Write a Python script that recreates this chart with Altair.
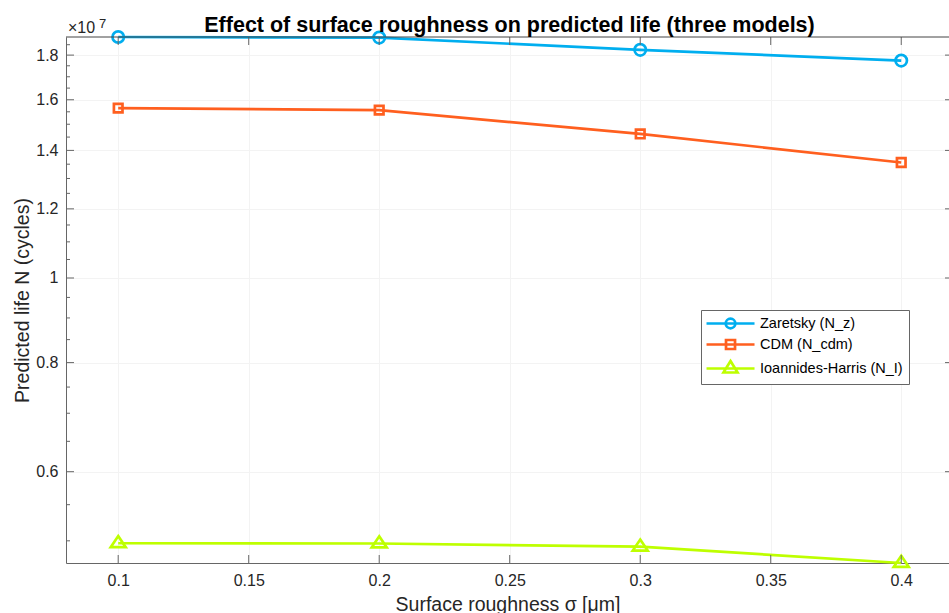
import altair as alt
import pandas as pd

# ---------------- data ----------------
sigma = [0.1, 0.2, 0.3, 0.4]
n_zaretsky = [1.888e7, 1.885e7, 1.825e7, 1.774e7]
n_cdm = [1.565e7, 1.557e7, 1.462e7, 1.356e7]
n_ih = [4.968e6, 4.965e6, 4.923e6, 4.716e6]
models = ["Zaretsky (N_z)", "CDM (N_cdm)", "Ioannides-Harris (N_I)"]
colors = ["#00AEEF", "#FF5F1F", "#BEFF00"]
title_text = "Effect of surface roughness on predicted life (three models)"

x_ticks = [0.1, 0.15, 0.2, 0.25, 0.3, 0.35, 0.4]
x_domain = [0.08, 0.4183]
y_major = [6e6, 8e6, 1e7, 1.2e7, 1.4e7, 1.6e7, 1.8e7]
y_minor = [5e6, 5.5e6, 6.5e6, 7e6, 7.5e6, 8.5e6, 9e6, 9.5e6, 1.05e7, 1.1e7,
           1.15e7, 1.25e7, 1.3e7, 1.35e7, 1.45e7, 1.5e7, 1.55e7, 1.65e7,
           1.7e7, 1.75e7, 1.85e7]

series = [n_zaretsky, n_cdm, n_ih]
rows = []
for m, vals in zip(models, series):
    for s, v in zip(sigma, vals):
        rows.append({"sigma": s, "N": v, "model": m})
df = pd.DataFrame(rows)
all_vals = [v for vals in series for v in vals]
y_domain = [min(all_vals), max(all_vals)]

# ---------------- styling ----------------
W, H = 883, 526
FONT = "Liberation Sans"
TICK = "#666666"
LW = 2.7

marker_paths = [
    "M-0.88,0A0.88,0.88,0,1,0,0.88,0A0.88,0.88,0,1,0,-0.88,0",
    "M-0.66,-0.66H0.66V0.66H-0.66Z",
    "M0,-1.1L1.15,0.6H-1.15Z",
]
legend_paths = [
    "M-1.33,0H6.67M1.87,0A0.8,0.8,0,1,0,3.47,0A0.8,0.8,0,1,0,1.87,0",
    "M-1.33,0H6.67M1.92,-0.75H3.42V0.75H1.92Z",
    "M-1.33,0H6.67M2.67,-1.25L3.84,0.67H1.5Z",
]

xs = alt.Scale(domain=x_domain, nice=False, zero=False)
ys = alt.Scale(type="log", domain=y_domain, nice=False)
cscale = alt.Scale(domain=models, range=colors)

x_axis = alt.Axis(values=x_ticks, format=".2~f",
                  title="Surface roughness σ [μm]",
                  labelPadding=9, titlePadding=7, grid=True)
y_axis = alt.Axis(values=y_major,
                  labelExpr="format(datum.value/1e7, '.1~f')",
                  title="Predicted life N (cycles)",
                  labelPadding=8, titlePadding=3, grid=True)

x_enc = alt.X("sigma:Q", scale=xs, axis=x_axis)
y_enc = alt.Y("N:Q", scale=ys, axis=y_axis)

lines = alt.Chart(df).mark_line(strokeWidth=LW).encode(
    x=x_enc, y=y_enc,
    color=alt.Color("model:N", scale=cscale, legend=None),
)
points = alt.Chart(df).mark_point(filled=False, strokeWidth=LW, size=169, opacity=1).encode(
    x=x_enc, y=y_enc,
    color=alt.Color("model:N", scale=cscale, legend=None),
    shape=alt.Shape("model:N", scale=alt.Scale(domain=models, range=marker_paths), legend=None),
)

leg = dict(orient="none", legendX=635, legendY=273, title=None,
           labelFont=FONT, labelFontSize=14.5, labelColor="#000000",
           symbolSize=144, symbolStrokeWidth=LW, padding=6, rowPadding=0,
           labelOffset=38, fillColor="white", strokeColor="#666666",
           labelLimit=400)
legend_layer = alt.Chart(df).transform_filter("false").mark_point(
    filled=False, strokeWidth=LW, size=144, opacity=1).encode(
    color=alt.Color("model:N", scale=cscale, legend=alt.Legend(**leg)),
    shape=alt.Shape("model:N", scale=alt.Scale(domain=models, range=legend_paths),
                    legend=alt.Legend(**leg)),
)

xt = pd.DataFrame({"v": x_ticks})
ymaj = pd.DataFrame({"v": y_major})
ymin = pd.DataFrame({"v": y_minor})
xr = alt.X("v:Q", scale=xs, axis=x_axis)
yr = alt.Y("v:Q", scale=ys, axis=y_axis)

tick_bottom = alt.Chart(xt).mark_rule(color=TICK, strokeWidth=1).encode(
    x=xr, y=alt.value(H), y2=alt.value(H - 8))
tick_top = alt.Chart(xt).mark_rule(color=TICK, strokeWidth=1).encode(
    x=xr, y=alt.value(0), y2=alt.value(8))
tick_left_major = alt.Chart(ymaj).mark_rule(color=TICK, strokeWidth=1).encode(
    y=yr, x=alt.value(0), x2=alt.value(8))
tick_left_minor = alt.Chart(ymin).mark_rule(color=TICK, strokeWidth=1).encode(
    y=yr, x=alt.value(0), x2=alt.value(4))
tick_right_major = alt.Chart(ymaj).mark_rule(color=TICK, strokeWidth=1).encode(
    y=yr, x=alt.value(W + 4), x2=alt.value(W - 4))
top_border = alt.Chart(pd.DataFrame({"a": [0]})).mark_rule(color="#444444", strokeWidth=1).encode(
    x=alt.value(0), x2=alt.value(W), y=alt.value(0))

exp_base = alt.Chart(pd.DataFrame({"t": ["×10"]})).mark_text(
    align="left", baseline="alphabetic", font=FONT, fontSize=16, color="#262626").encode(
    x=alt.value(2), y=alt.value(-4), text="t:N")
exp_pow = alt.Chart(pd.DataFrame({"t": ["7"]})).mark_text(
    align="left", baseline="alphabetic", font=FONT, fontSize=13, color="#262626").encode(
    x=alt.value(33), y=alt.value(-9), text="t:N")

title_mark = alt.Chart(pd.DataFrame({"t": [title_text]})).mark_text(
    align="center", baseline="alphabetic", font=FONT, fontSize=21.5,
    fontWeight="bold", color="#000000").encode(
    x=alt.value(W / 2 + 2), y=alt.value(-5), text="t:N")

chart = alt.layer(
    lines, points, legend_layer,
    tick_bottom, tick_top, tick_left_major, tick_left_minor, tick_right_major,
    top_border, exp_base, exp_pow, title_mark,
).resolve_scale(color="independent", shape="independent").properties(
    width=W, height=H,
    padding={"left": 66, "top": 37, "right": 0, "bottom": 50},
    autosize=alt.AutoSizeParams(type="none"),
    background="white",
).configure_view(stroke=None).configure_axis(
    labelFont=FONT, labelFontSize=16, labelColor="#262626",
    titleFont=FONT, titleFontSize=19.5, titleFontWeight="normal", titleColor="#262626",
    domainColor="#666666", domainWidth=1, ticks=False, tickSize=0,
    gridColor="#f3f3f3", gridWidth=1,
)

chart.save("out.html", embed_options={"renderer": "svg", "actions": False})
